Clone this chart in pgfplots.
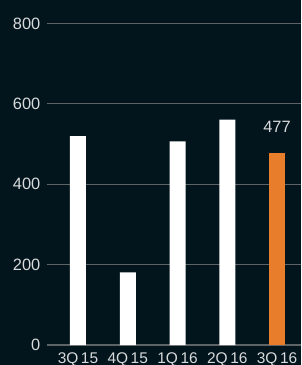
\documentclass[border=0pt]{standalone}
\usepackage{pgfplots}
\pgfplotsset{compat=1.18}
\usepackage{fontspec}
\setmainfont{Liberation Sans}
\definecolor{bg}{HTML}{02141C}
\definecolor{gridc}{HTML}{5E6366}
\definecolor{txt}{HTML}{D8DADB}
\definecolor{orng}{HTML}{E87D2B}
\begin{document}
\begin{tikzpicture}
\fill[bg] (-35.25pt,-15pt) rectangle (190.5pt,258.75pt);
\clip (-35.25pt,-15pt) rectangle (190.5pt,258.75pt);
\begin{axis}[
  scale only axis,
  width=190.5pt, height=241.1pt,
  xmin=-0.623, xmax=4.482,
  ymin=0, ymax=800,
  axis line style={draw=none},
  clip=false,
  ytick={0,200,400,600,800},
  xtick={0,1,2,3,4},
  xticklabels={3Q\,15,4Q\,15,1Q\,16,2Q\,16,3Q\,16},
  major tick length=0pt,
  xmajorgrids=false,
  ymajorgrids=true,
  grid style={draw=gridc, line width=0.8pt},
  yticklabel style={font=\fontsize{12.3}{14}\selectfont, text=txt, xshift=-1.5pt},
  xticklabel style={font=\fontsize{11.6}{14}\selectfont, text=txt, yshift=-2.6pt},
  /pgf/number format/assume math mode=true,
  ybar, bar width=12pt, bar shift=0pt,
]
\addplot[fill=white, draw=none] coordinates {(0,520) (1,181) (2,507) (3,561)};
\addplot[fill=orng, draw=none, nodes near coords,
  every node near coord/.append style={font=\fontsize{12.3}{14}\selectfont, text=txt, yshift=12pt}]
  coordinates {(4,477)};
\end{axis}
\end{tikzpicture}
\end{document}
